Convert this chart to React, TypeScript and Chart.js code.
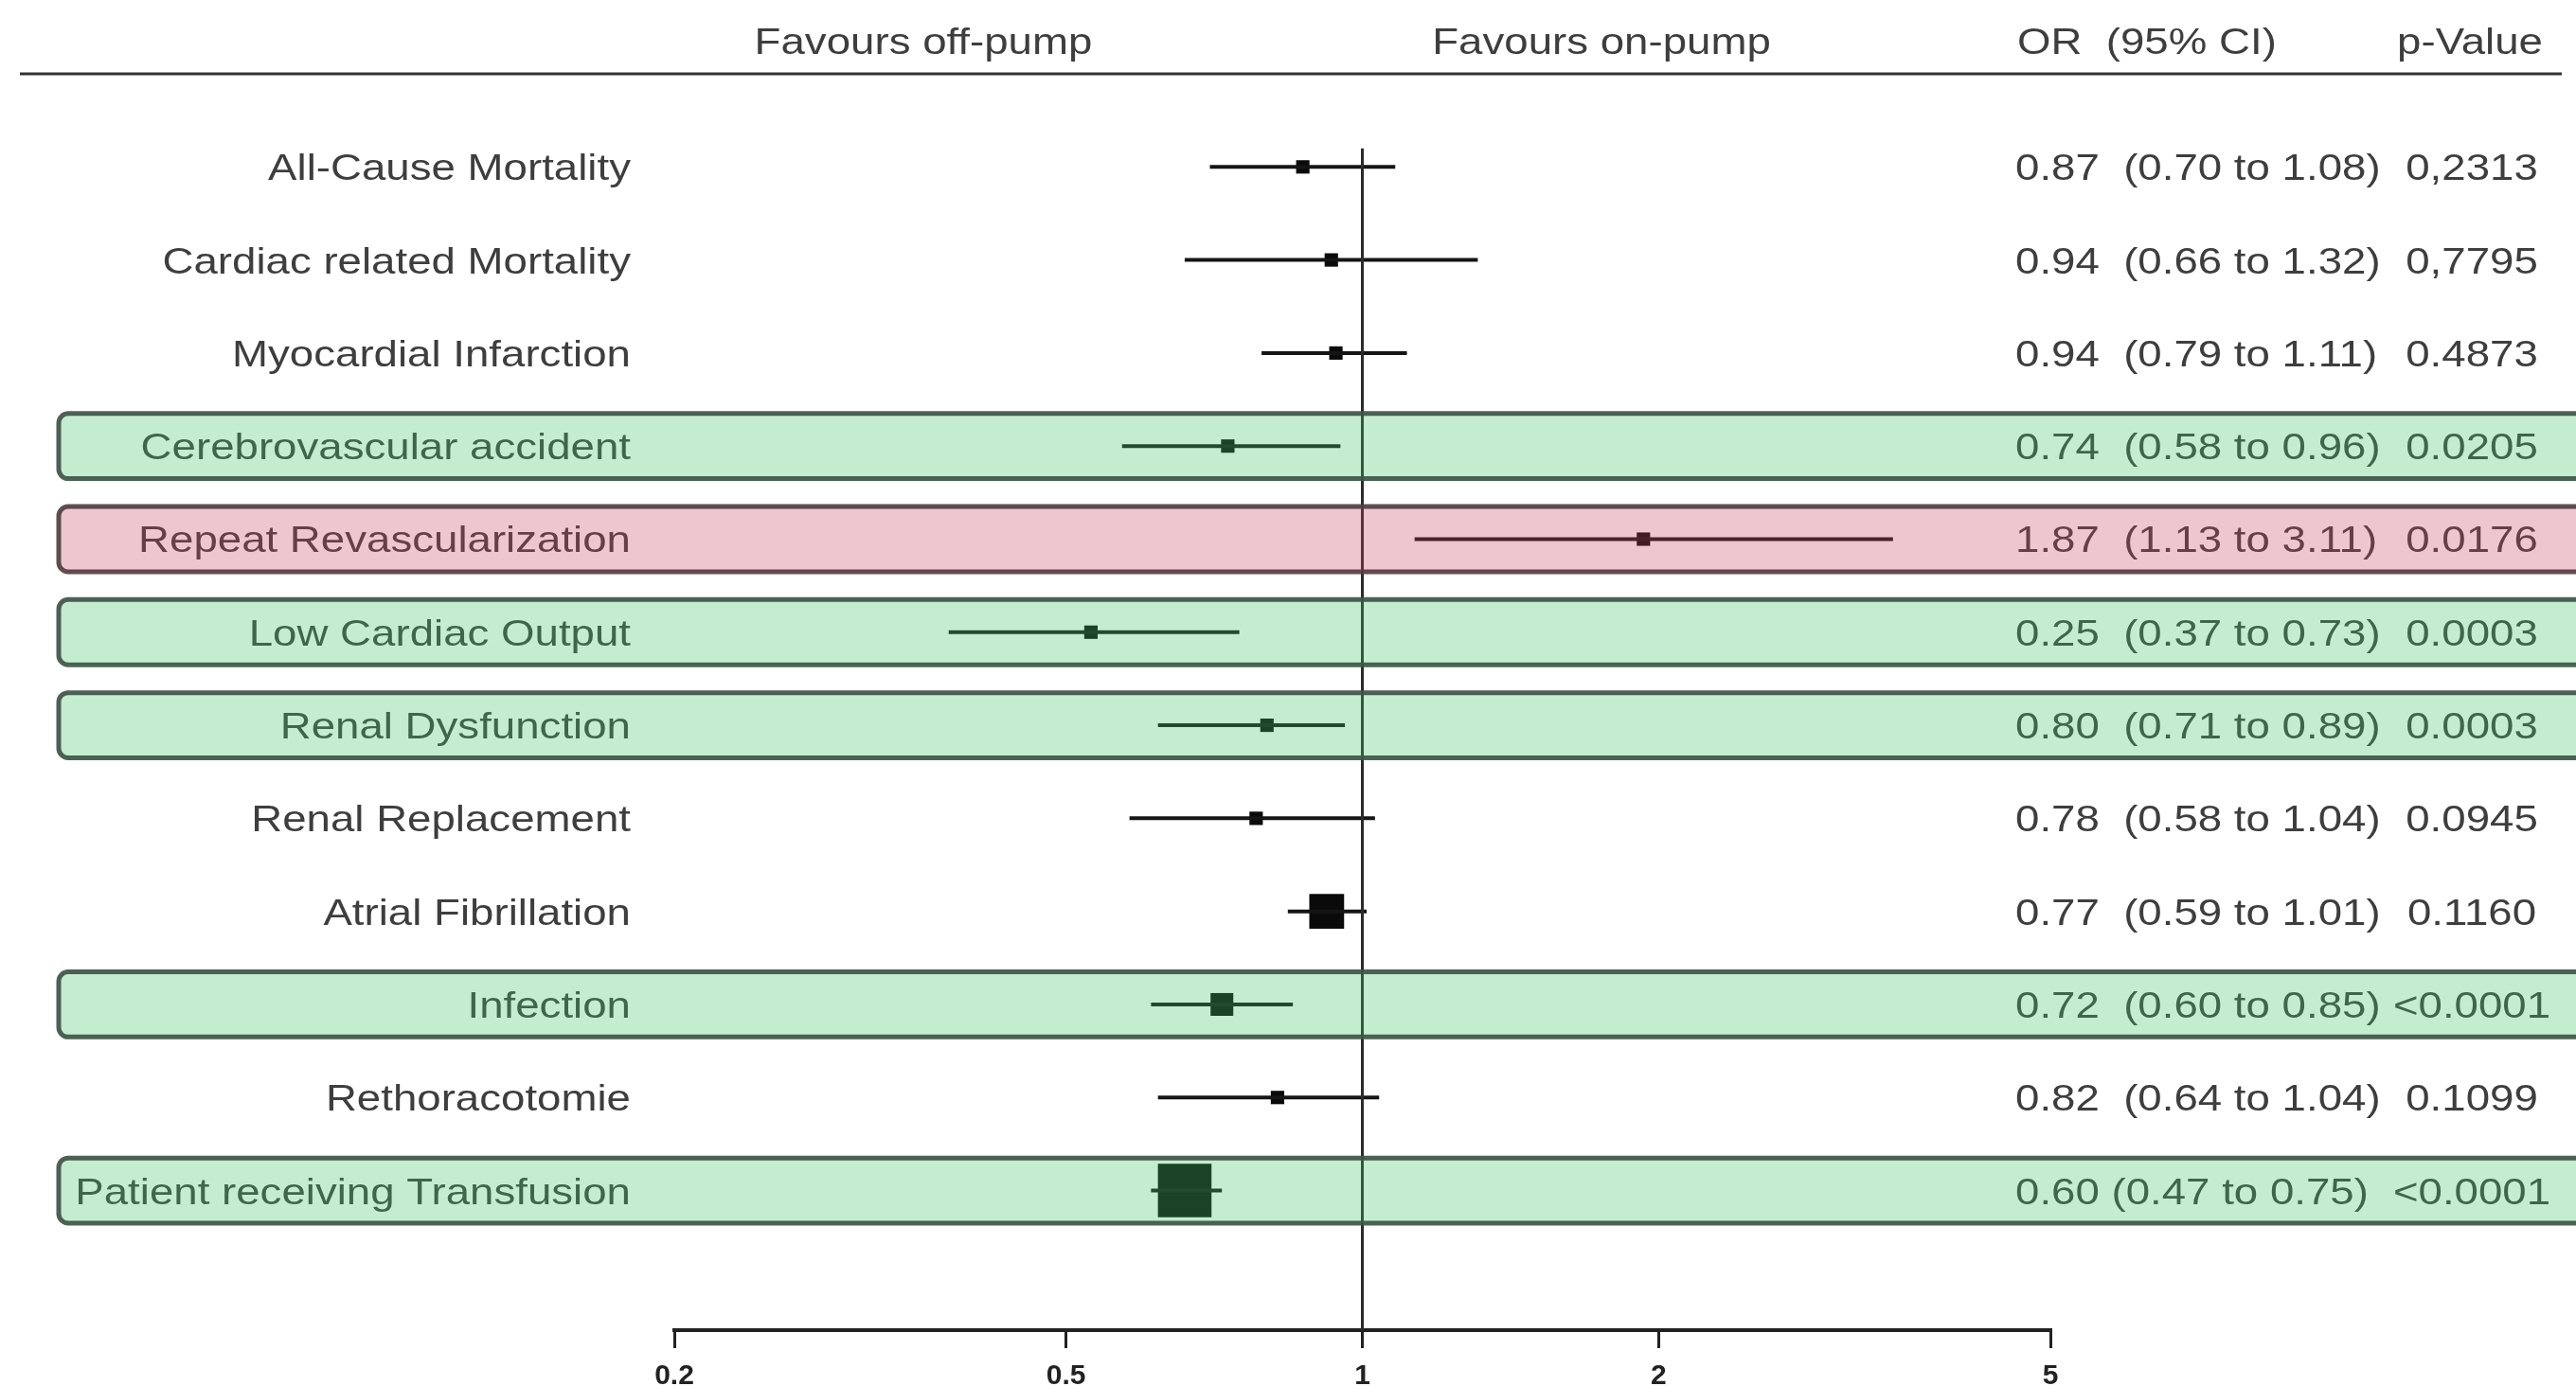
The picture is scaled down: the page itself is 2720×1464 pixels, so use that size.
import React, { useEffect, useRef } from "react";
import { Chart, registerables } from "chart.js";

Chart.register(...registerables);

// ---- data ----
const outcomes = [
  "All-Cause Mortality",
  "Cardiac related Mortality",
  "Myocardial Infarction",
  "Cerebrovascular accident",
  "Repeat Revascularization",
  "Low Cardiac Output",
  "Renal Dysfunction",
  "Renal Replacement",
  "Atrial Fibrillation",
  "Infection",
  "Rethoracotomie",
  "Patient receiving Transfusion",
];
// plotted estimates (read from the drawn marks)
const oddsRatio = [0.87, 0.93, 0.94, 0.73, 1.93, 0.53, 0.8, 0.78, 0.92, 0.72, 0.82, 0.66];
const ciLower = [0.7, 0.66, 0.79, 0.57, 1.13, 0.38, 0.62, 0.58, 0.84, 0.61, 0.62, 0.61];
const ciUpper = [1.08, 1.31, 1.11, 0.95, 3.46, 0.75, 0.96, 1.03, 1.01, 0.85, 1.04, 0.72];
const studyWeight = [1, 1, 1, 1, 1, 1, 1, 1, 2.6, 1.7, 1, 4];
// "off" = significantly favours off-pump, "on" = favours on-pump, "" = not significant
const favours = ["", "", "", "off", "on", "off", "off", "", "", "off", "", "off"];
const orLabels = [
  "0.87  (0.70 to 1.08)",
  "0.94  (0.66 to 1.32)",
  "0.94  (0.79 to 1.11)",
  "0.74  (0.58 to 0.96)",
  "1.87  (1.13 to 3.11)",
  "0.25  (0.37 to 0.73)",
  "0.80  (0.71 to 0.89)",
  "0.78  (0.58 to 1.04)",
  "0.77  (0.59 to 1.01)",
  "0.72  (0.60 to 0.85)",
  "0.82  (0.64 to 1.04)",
  "0.60 (0.47 to 0.75)",
];
const pValues = [
  "0,2313",
  "0,7795",
  "0.4873",
  "0.0205",
  "0.0176",
  "0.0003",
  "0.0003",
  "0.0945",
  "0.1160",
  "<0.0001",
  "0.1099",
  "<0.0001",
];
const xTicks = [0.2, 0.5, 1, 2, 5];
const headerLeft = "Favours off-pump";
const headerRight = "Favours on-pump";
const headerOR = "OR  (95% CI)";
const headerP = "p-Value";

const FONT = '"Liberation Sans", Arial, Helvetica, sans-serif';

export default function App() {
  const ref = useRef<HTMLCanvasElement>(null);

  useEffect(() => {
    const canvas = ref.current;
    if (!canvas) return;
    const rows = outcomes.map((_, i) => i);

    const datasets: any[] = [];
    // line of no effect
    datasets.push({
      data: [
        { x: 1, y: -0.2 },
        { x: 1, y: 12.5 },
      ],
      showLine: true,
      borderColor: "#2b2b2b",
      borderWidth: 3,
      pointRadius: 0,
    });
    // confidence intervals
    rows.forEach((i) => {
      datasets.push({
        data: [
          { x: ciLower[i], y: i },
          { x: ciUpper[i], y: i },
        ],
        showLine: true,
        borderColor: "#151515",
        borderWidth: 4,
        pointRadius: 0,
      });
    });
    // point estimates
    datasets.push({
      data: rows.map((i) => ({ x: oddsRatio[i], y: i })),
      showLine: false,
      pointStyle: "rect",
      pointRadius: studyWeight.map((w) => 10 * w),
      backgroundColor: "#0a0a0a",
      borderWidth: 0,
    });

    const stretch = 1.17;
    const drawText = (
      ctx: CanvasRenderingContext2D,
      txt: string,
      x: number,
      y: number,
      align: CanvasTextAlign,
      color: string,
      size = 39
    ) => {
      ctx.save();
      ctx.translate(x, y);
      ctx.scale(stretch, 1);
      ctx.font = `${size}px ${FONT}`;
      ctx.fillStyle = color;
      ctx.textAlign = align;
      ctx.textBaseline = "alphabetic";
      ctx.fillText(txt, 0, 0);
      ctx.restore();
    };

    const forestPlugin = {
      id: "forestText",
      afterDraw(chart: any) {
        const { ctx, chartArea } = chart;
        const ys = chart.scales.y;
        const textColor = "#3e3e3e";
        // header
        drawText(ctx, headerLeft, 975, 57, "center", textColor);
        drawText(ctx, headerRight, 1691, 57, "center", textColor);
        drawText(ctx, headerOR, 2130, 57, "left", textColor);
        drawText(ctx, headerP, 2685, 57, "right", textColor);
        ctx.save();
        ctx.strokeStyle = "#333";
        ctx.lineWidth = 3;
        ctx.beginPath();
        ctx.moveTo(21, chartArea.top);
        ctx.lineTo(2705, chartArea.top);
        ctx.stroke();
        ctx.restore();

        outcomes.forEach((name, i) => {
          const yy = ys.getPixelForValue(i) + 14;
          drawText(ctx, name, 666, yy, "right", textColor);
          drawText(ctx, orLabels[i], 2128, yy, "left", textColor);
          drawText(ctx, pValues[i], 2610, yy, "center", textColor);
        });

        // coloured highlight bands (translucent overlay)
        outcomes.forEach((_, i) => {
          const f = favours[i];
          if (!f) return;
          const top = ys.getPixelForValue(i - 0.35);
          const bottom = ys.getPixelForValue(i + 0.35);
          const x0 = 62;
          const w = 2780 - x0;
          ctx.save();
          ctx.beginPath();
          (ctx as any).roundRect(x0, top, w, bottom - top, 10);
          ctx.fillStyle = f === "on" ? "rgba(200,67,100,0.30)" : "rgba(65,194,97,0.31)";
          ctx.fill();
          ctx.lineWidth = 5;
          ctx.strokeStyle = f === "on" ? "rgba(85,62,67,0.92)" : "rgba(62,85,70,0.92)";
          ctx.stroke();
          ctx.restore();
        });
      },
    };

    const chart = new Chart(canvas, {
      type: "scatter",
      data: { datasets },
      options: {
        animation: false,
        responsive: false,
        devicePixelRatio: 1,
        layout: { padding: { top: 78, left: 712, right: 555, bottom: 0 } },
        plugins: { legend: { display: false }, tooltip: { enabled: false } },
        scales: {
          x: {
            type: "logarithmic",
            min: 0.2,
            max: 5,
            position: "bottom",
            afterBuildTicks: (s: any) => {
              s.ticks = xTicks.map((v) => ({ value: v }));
            },
            afterFit: (s: any) => {
              s.height = 59;
            },
            border: { display: true, color: "#222", width: 4 },
            grid: {
              drawOnChartArea: false,
              drawTicks: true,
              tickLength: 19,
              lineWidth: 3,
              color: "#222",
            },
            ticks: {
              autoSkip: false,
              maxRotation: 0,
              padding: 12,
              color: "#222",
              font: { size: 30, family: FONT, weight: "bold" },
              callback: (v: any) => String(v),
            },
          },
          y: {
            type: "linear",
            reverse: true,
            min: -1,
            max: 12.5,
            display: false,
          },
        },
      },
      plugins: [forestPlugin],
    } as any);

    return () => chart.destroy();
  }, []);

  return (
    <div
      style={{
        position: "fixed",
        left: 0,
        top: 0,
        width: 2720,
        height: 1464,
        background: "#fff",
      }}
    >
      <canvas ref={ref} width={2720} height={1464} style={{ width: 2720, height: 1464 }} />
    </div>
  );
}
